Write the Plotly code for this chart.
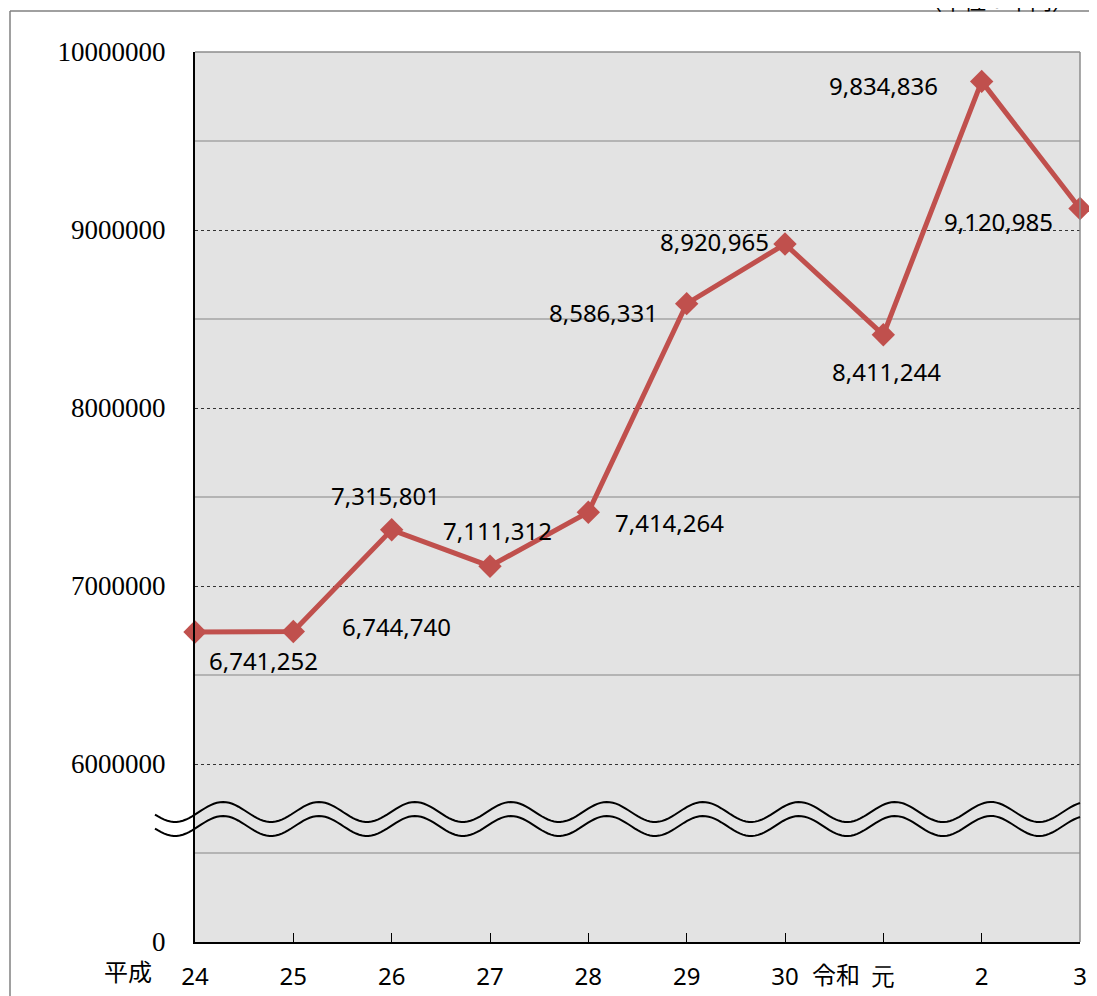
import numpy as np
import plotly.graph_objects as go

categories = ["24", "25", "26", "27", "28", "29", "30", "元", "2", "3"]
values = [6741252, 6744740, 7315801, 7111312, 7414264, 8586331, 8920965, 8411244, 9834836, 9120985]
label_text = ["6,741,252", "6,744,740", "7,315,801", "7,111,312", "7,414,264",
              "8,586,331", "8,920,965", "8,411,244", "9,834,836", "9,120,985"]
# label offsets in pixels (x right, y up)
label_dx = [68, 103, -6, 7, 81, -83, -71, 3, -98, -82]
label_dy = [-28, 5, 34, 36, -10, -9, 3, -37, -4, -13]
y_tickvals = [5000000, 6000000, 7000000, 8000000, 9000000, 10000000]
y_ticktext = ["0", "6000000", "7000000", "8000000", "9000000", "10000000"]
y_minor = [5500000, 6500000, 7500000, 8500000, 9500000]

W, H = 1097, 996
OFF = 8  # page body margin
# plot area in screen pixels
SL, SR, ST, SB = 195, 1080, 52, 942
L, R, T, B = SL - OFF, SR - OFF, ST - OFF, SB - OFF

def px(xs):
    return (xs - SL) / (SR - SL)

def py(ys):
    return (SB - ys) / (SB - ST)

x = list(range(len(categories)))

fig = go.Figure()
fig.add_trace(go.Scatter(
    x=x, y=values, mode="lines+markers",
    line=dict(color="#c0504d", width=5),
    marker=dict(symbol="diamond", size=18, color="#c0504d"),
    cliponaxis=False, showlegend=False, hoverinfo="skip"))

annotations = []
for i, (v, t) in enumerate(zip(values, label_text)):
    annotations.append(dict(x=i, y=v, xref="x", yref="y", text=t, showarrow=False,
                            xanchor="center", yanchor="middle",
                            xshift=label_dx[i], yshift=label_dy[i],
                            font=dict(family="Noto Sans", size=24, color="#000")))

annotations.append(dict(x=px(128), y=py(970), xref="paper", yref="paper", text="平成",
                        xanchor="center", yanchor="middle",
                        showarrow=False, font=dict(family="Noto Sans CJK JP", size=24, color="#000")))
annotations.append(dict(x=px(836), y=py(973), xref="paper", yref="paper", text="令和",
                        xanchor="center", yanchor="middle",
                        showarrow=False, font=dict(family="Noto Sans CJK JP", size=24, color="#000")))
annotations.append(dict(x=px(1076), y=py(-1), xref="paper", yref="paper", text="（単位：千円）",
                        xanchor="right", yanchor="middle", showarrow=False,
                        font=dict(family="Noto Sans CJK JP", size=22, color="#000")))

shapes = []
# outer frame lines
shapes.append(dict(type="line", xref="paper", yref="paper", x0=px(10), x1=px(1110), y0=py(11), y1=py(11),
                   line=dict(color="#808080", width=1.5)))
shapes.append(dict(type="line", xref="paper", yref="paper", x0=px(10), x1=px(10), y0=py(11), y1=py(1010),
                   line=dict(color="#808080", width=1.5)))
# plot border (top/right gray)
shapes.append(dict(type="line", xref="paper", yref="paper", x0=0, x1=1, y0=1, y1=1,
                   line=dict(color="#8c8c8c", width=1.5)))
shapes.append(dict(type="line", xref="paper", yref="paper", x0=1, x1=1, y0=0, y1=1,
                   line=dict(color="#8c8c8c", width=1.5)))

# break (wavy) symbol
def wave_path(cy, x0s=155, x1s=1080, amp=10, period=96, phase=223):
    xs = np.linspace(x0s, x1s, 300)
    ys = cy - amp * np.cos(2 * np.pi * (xs - phase) / period)
    pts = ["%s%.5f,%.5f" % ("M" if k == 0 else "L", px(a), py(b)) for k, (a, b) in enumerate(zip(xs, ys))]
    return " ".join(pts)

for cy in (812, 826):
    shapes.append(dict(type="path", xref="paper", yref="paper", path=wave_path(cy),
                       line=dict(color="#000", width=2)))

fig.update_layout(
    width=W, height=H,
    margin=dict(l=L, r=W - R, t=T, b=H - B, pad=0, autoexpand=False),
    paper_bgcolor="white", plot_bgcolor="#e3e3e3",
    annotations=annotations, shapes=shapes,
    xaxis=dict(range=[0, len(categories) - 1], tickvals=x, ticktext=categories,
               showgrid=False, zeroline=False, showline=True, linecolor="#000", linewidth=2,
               ticks="inside", ticklen=9, tickcolor="#000", tickwidth=1,
               ticklabelstandoff=12, automargin=False,
               tickfont=dict(family="Noto Sans", size=24, color="#000")),
    yaxis=dict(range=[5000000, 10000000], tickvals=y_tickvals, ticktext=y_ticktext,
               showgrid=True, gridcolor="#333", griddash="dot", gridwidth=1,
               minor=dict(tickvals=y_minor, showgrid=True, gridcolor="#b4b4b4", gridwidth=2,
                          griddash="solid", ticks=""),
               zeroline=False, showline=True, linecolor="#000", linewidth=2,
               ticks="", ticklabelstandoff=22, automargin=False,
               tickfont=dict(family="Liberation Serif", size=27, color="#000")),
)

fig.write_html("out.html")
